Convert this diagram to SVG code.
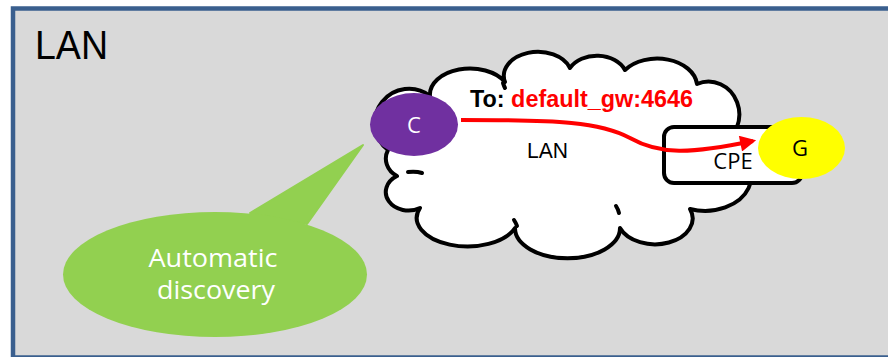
<svg xmlns="http://www.w3.org/2000/svg" width="888" height="357" viewBox="0 0 888 357">
<style>
.t{font-family:"Liberation Sans","Open Sans",sans-serif;}
.o{font-family:"Open Sans","Liberation Sans",sans-serif;}
.cl{fill:#fff;stroke:#000;stroke-width:4;stroke-linejoin:round}
.ca{fill:none;stroke:#000;stroke-width:4;stroke-linecap:round}
</style>
<defs>
<marker id="ah" viewBox="0 0 10 10" refX="8" refY="5" markerWidth="4.4" markerHeight="4" markerUnits="strokeWidth" orient="auto">
<path d="M0,0 L10,5 L0,10 Z" fill="#FF0000"/>
</marker>
</defs>
<rect width="888" height="357" fill="#fff"/>
<g id="lan-frame">
<rect x="13" y="8.5" width="900" height="349" fill="#D9D9D9" stroke="#3A5F8E" stroke-width="4.5"/>
<text class="t" x="35" y="58.5" font-size="40" textLength="73" lengthAdjust="spacingAndGlyphs" fill="#000">LAN</text>
</g>
<g id="cloud">
<path class="cl" d="M430,96 A40,26 0 0 1 505,82 A34,24 0 0 1 570,68 A30,22 0 0 1 625,70 A40,28 0 0 1 697,84 A30,32 0 0 1 720,145 A30,22 0 0 1 690,209 A35,24 0 0 1 620,228 A52,30 0 0 1 515,228 A50,28 0 0 1 420,208 A22,18 0 0 1 397,176 A22,20 0 0 1 388,150 A30,30 0 0 1 430,96 Z"/>
<path class="ca" d="M408,172 Q416,171 422,173"/>
<path class="ca" d="M514,220 Q516,223 517,226"/>
<path class="ca" d="M616,206 Q618,209 619,213"/>
<path class="ca" d="M503,83 Q504,86 505,88"/>
<text class="t" x="547.5" y="158.3" font-size="22" text-anchor="middle" textLength="41" lengthAdjust="spacingAndGlyphs" fill="#000">LAN</text>
</g>
<g id="cpe">
<rect x="664" y="127" width="138" height="56" rx="10" fill="#fff" stroke="#000" stroke-width="4"/>
<text class="o" x="733" y="169" font-size="22" text-anchor="middle" fill="#000">CPE</text>
</g>
<g id="label">
<text class="t" x="470" y="106.7" font-size="23" font-weight="bold" textLength="223" lengthAdjust="spacingAndGlyphs"><tspan fill="#000">To: </tspan><tspan fill="#FF0000">default_gw:4646</tspan></text>
</g>
<g id="node-c">
<ellipse cx="414" cy="124.5" rx="44" ry="31.5" fill="#7030A0"/>
<text class="o" x="414" y="132.5" font-size="22" text-anchor="middle" fill="#fff">C</text>
</g>
<g id="connectors">
<path d="M461,120 C560,120 600,122 630,138 C660,155 690,154 753,141" fill="none" stroke="#FF0000" stroke-width="4" marker-end="url(#ah)"/>
</g>
<g id="node-g">
<ellipse cx="801.5" cy="148" rx="43.5" ry="31" fill="#FFFF00"/>
<text class="o" x="800" y="156" font-size="22" text-anchor="middle" fill="#000">G</text>
</g>
<g id="bubble">
<path d="M250,213 L363,145 L307,224 Z" fill="#92D050" stroke="#92D050" stroke-width="2" stroke-linejoin="round"/>
<ellipse cx="215" cy="274.5" rx="152" ry="62.5" fill="#92D050"/>
<text class="o" x="213" y="267" font-size="25" text-anchor="middle" textLength="129" lengthAdjust="spacingAndGlyphs" fill="#fff">Automatic</text>
<text class="o" x="216" y="299" font-size="25" text-anchor="middle" textLength="118" lengthAdjust="spacingAndGlyphs" fill="#fff">discovery</text>
</g>
</svg>
